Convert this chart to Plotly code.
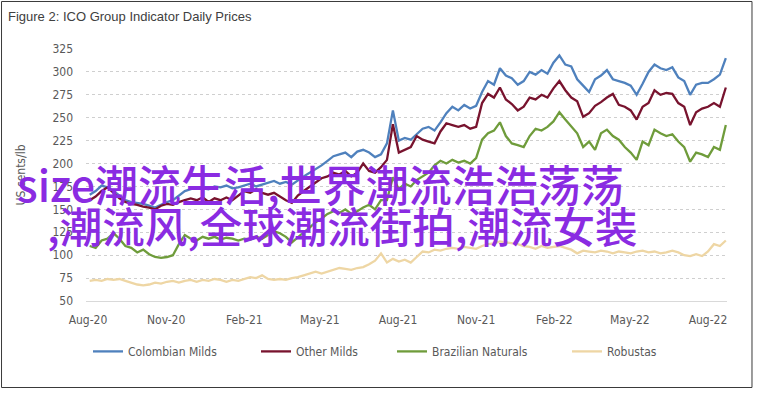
import pandas as pd
import plotly.graph_objects as go

# Weekly readings (Mondays) from the reference, US cents/lb
dates = pd.date_range("2020-08-03", periods=108, freq="7D")

colombian_milds = [
    166, 170, 176, 174, 170, 165, 160, 158, 157, 156,
    154, 152, 155, 158, 160, 165, 170, 172, 174, 173,
    172, 175, 174, 176, 173, 174, 176, 178, 175, 177,
    179, 181, 178, 180, 177, 182, 186, 190, 194, 198,
    203, 208, 210, 212, 207, 213, 215, 212, 207, 210,
    222, 258, 225, 228, 226, 232, 238, 240, 236, 245,
    255, 262, 258, 264, 260, 263, 278, 290, 286, 304,
    296, 293, 286, 290, 300, 297, 302, 298, 310, 318,
    308, 306, 292, 285, 278, 292, 296, 302, 292, 290,
    288, 285, 275, 287, 300, 308, 304, 302, 305, 294,
    290, 275, 286, 288, 288, 292, 297, 315,
]
other_milds = [
    160, 164, 170, 174, 168, 162, 158, 156, 155, 153,
    152, 150, 154, 156, 155, 158, 160, 162, 160, 163,
    158, 162, 160, 163, 160, 165, 170, 168, 172, 168,
    166, 168, 164, 160, 157, 165, 170, 175, 180, 184,
    186, 190, 188, 192, 186, 190, 200, 192, 190, 196,
    204, 243, 212, 215, 218, 230, 226, 224, 222, 235,
    244, 242, 240, 242, 238, 240, 266, 276, 272, 283,
    270, 265, 258, 262, 272, 270, 275, 272, 282, 290,
    280, 272, 268, 251, 255, 263, 267, 272, 276, 264,
    262, 258, 248, 262, 266, 280, 275, 277, 276, 266,
    262, 242, 256, 260, 262, 266, 262, 283,
]
brazilian_naturals = [
    110, 108, 116, 118, 124, 118, 110, 108, 103, 106,
    101, 98, 97, 98, 100, 112, 122, 118, 116, 120,
    118, 120, 117, 119, 118, 116, 118, 117, 120, 118,
    122, 126, 124, 120, 114, 120, 125, 130, 136, 140,
    145, 148, 146, 150, 145, 148, 152, 155, 150, 160,
    160, 185, 172, 178, 175, 182, 186, 190, 198, 203,
    200, 204, 201, 203, 200, 206, 226, 233, 236, 245,
    230, 222, 220, 218, 230, 238, 236, 240, 246, 256,
    248, 240, 233, 218, 224, 215, 233, 237, 230, 226,
    218, 212, 204, 224, 220, 237, 233, 230, 232, 224,
    218, 202, 212, 210, 207, 218, 215, 242,
]
robustas = [
    72, 73, 72, 74, 73, 74, 72, 70, 68, 67,
    68, 70, 69, 71, 72, 70, 72, 73, 71, 73,
    72, 74, 73, 71, 73, 72, 74, 76, 75, 78,
    74, 73, 74, 73, 75, 76, 78, 80, 82, 80,
    82, 84, 86, 85, 84, 86, 87, 90, 94, 102,
    92, 96, 93, 95, 92, 98, 104, 103, 106, 105,
    107, 108, 107, 109, 108, 107, 110, 112, 113, 115,
    114, 113, 112, 110, 109, 107, 110, 108, 109, 110,
    108, 106, 102, 105, 104, 103, 105, 104, 102, 104,
    103, 102, 104, 105, 103, 104, 102, 103, 105, 103,
    100, 99, 101, 99, 104, 112, 110, 116,
]

series_names = ["Colombian Milds", "Other Milds", "Brazilian Naturals", "Robustas"]
series_values = [colombian_milds, other_milds, brazilian_naturals, robustas]
series_colors = ["#4f81bd", "#78132e", "#6f9c3b", "#eed6a4"]
legend_ids = ["legend", "legend2", "legend3", "legend4"]
legend_x = [0.0031, 0.2652, 0.4774, 0.7504]

y_ticks = [50, 75, 100, 125, 150, 175, 200, 225, 250, 275, 300, 325]

title_text = "Figure 2: ICO Group Indicator Daily Prices"
y_title = "US cents/lb"
overlay_line1 = "size潮流生活,世界潮流浩浩荡荡"
overlay_line2 = ",潮流风,全球潮流街拍,潮流女装"

tick_font = dict(family="DejaVu Sans Condensed, Roboto Condensed, Liberation Sans Narrow, Roboto", size=12, color="#595959")

fig = go.Figure()
for name, vals, col, lid in zip(series_names, series_values, series_colors, legend_ids):
    fig.add_trace(go.Scatter(
        x=dates, y=vals, mode="lines", name=name,
        line=dict(color=col, width=2.3),
        legend=lid,
    ))

layout_legends = {}
for lid, lx in zip(legend_ids, legend_x):
    layout_legends[lid] = dict(
        x=lx, xanchor="left", y=-0.200, yanchor="middle",
        orientation="h", font=tick_font, bgcolor="rgba(0,0,0,0)",
        borderwidth=0,
    )

fig.update_layout(
    width=758, height=393,
    margin=dict(l=86, r=31, t=49, b=92, pad=0),
    paper_bgcolor="white", plot_bgcolor="white",
    showlegend=True,
    title=dict(
        text=title_text, x=8/758, xanchor="left", y=1-16/393, yanchor="middle",
        font=dict(family="Liberation Sans, Arial, sans-serif", size=13, color="#404040"),
    ),
    **layout_legends,
)

fig.update_xaxes(
    range=["2020-07-29 15:30", "2022-08-23 09:00"],
    tick0="2020-08-01", dtick="M3", tickformat="%b-%y",
    showgrid=False, showline=True, linecolor="#d9d9d9", linewidth=1,
    ticks="", tickfont=tick_font, ticklabelstandoff=8,
    zeroline=False,
)
fig.update_yaxes(
    range=[50, 325], tickvals=y_ticks,
    showgrid=True, gridcolor="#cfcfcf", griddash="dot", gridwidth=1,
    showline=False, zeroline=False, ticks="", tickfont=tick_font,
    ticklabelstandoff=12,
    title=dict(text=y_title, font=tick_font, standoff=24),
)

# outer frame
fig.add_shape(type="rect", xref="paper", yref="paper",
              x0=-0.1318, x1=1.0390, y0=-0.3433, y1=1.1885,
              line=dict(color="#3a3a3a", width=1), fillcolor="rgba(0,0,0,0)", layer="above")

fig.add_annotation(text=overlay_line1, xref="paper", yref="paper",
                   x=-0.1108, y=0.470, xanchor="left", yanchor="middle",
                   showarrow=False,
                   font=dict(family="Noto Sans CJK SC, sans-serif", size=43, color="#8a2be2", weight=500))
fig.add_annotation(text=overlay_line2, xref="paper", yref="paper",
                   x=-0.064, y=0.302, xanchor="left", yanchor="middle",
                   showarrow=False,
                   font=dict(family="Noto Sans CJK SC, sans-serif", size=42.5, color="#8a2be2", weight=500))

fig.write_html("out.html", post_script="document.body.style.margin='0px';",
               config={"displayModeBar": False})
